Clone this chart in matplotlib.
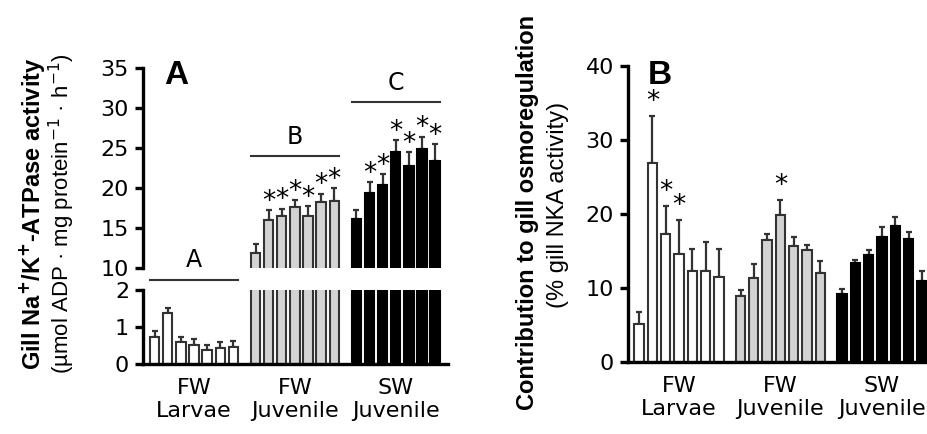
import numpy as np
import matplotlib.pyplot as plt

plt.rcParams['font.family'] = ['DejaVu Sans']
LABEL_FONT = ['Liberation Sans', 'DejaVu Sans']

group_labels = ['FW\nLarvae', 'FW\nJuvenile', 'SW\nJuvenile']
group_letters = ['A', 'B', 'C']
fill_colors = ['white', '#d3d3d3', 'black']

# --------------------------------
# Panel A: gill NKA activity (mean, SEM)
# --------------------------------
nka_larvae = [0.72, 1.37, 0.60, 0.51, 0.38, 0.42, 0.47]
nka_larvae_err = [0.18, 0.13, 0.12, 0.17, 0.13, 0.17, 0.16]
nka_fw_juv = [11.9, 16.0, 16.5, 17.6, 16.5, 18.2, 18.4]
nka_fw_juv_err = [1.1, 1.2, 0.9, 0.85, 1.2, 1.1, 1.6]
nka_sw_juv = [16.1, 19.4, 20.4, 24.5, 22.7, 24.9, 23.4]
nka_sw_juv_err = [1.15, 1.3, 1.3, 1.5, 1.8, 1.5, 2.1]
nka_stars = [[], [1, 2, 3, 4, 5, 6], [1, 2, 3, 4, 5, 6]]

# --------------------------------
# Panel B: contribution to gill osmoregulation (mean, SEM)
# --------------------------------
osmo_larvae = [5.05, 26.8, 17.3, 14.5, 12.2, 12.3, 11.5]
osmo_larvae_err = [1.65, 6.4, 3.8, 4.6, 3.0, 3.9, 3.7]
osmo_fw_juv = [8.9, 11.3, 16.5, 19.8, 15.7, 15.1, 12.0]
osmo_fw_juv_err = [0.8, 1.9, 0.8, 2.1, 1.1, 0.7, 1.6]
osmo_sw_juv = [9.15, 13.3, 14.4, 16.8, 18.4, 16.6, 10.95]
osmo_sw_juv_err = [0.65, 0.5, 0.7, 1.4, 1.2, 0.9, 1.35]
osmo_stars = [[1, 2, 3], [3], []]

nka_means = [nka_larvae, nka_fw_juv, nka_sw_juv]
nka_errs = [nka_larvae_err, nka_fw_juv_err, nka_sw_juv_err]
osmo_means = [osmo_larvae, osmo_fw_juv, osmo_sw_juv]
osmo_errs = [osmo_larvae_err, osmo_fw_juv_err, osmo_sw_juv_err]

EDGE = '#333333'
LW = 2.4
FS = 16


def positions(g, n, stride):
    return np.arange(n) + g * stride


def draw_bars(ax, means, errs, stride, width):
    for g in range(3):
        x = positions(g, len(means[g]), stride)
        ec = 'black' if g == 2 else EDGE
        ax.errorbar(x, means[g], yerr=[np.zeros(len(x)), errs[g]], fmt='none',
                    ecolor=EDGE, elinewidth=1.6, capsize=2.5, capthick=1.6, zorder=1)
        ax.bar(x, means[g], width, color=fill_colors[g], edgecolor=ec,
               linewidth=1.5, zorder=2)


def draw_stars(ax, means, errs, stars, stride, offset):
    for g in range(3):
        for i in stars[g]:
            x = positions(g, 7, stride)[i]
            ax.annotate('*', (x, means[g][i] + errs[g][i]), xytext=(0, offset),
                        textcoords='offset points', ha='center', va='center',
                        fontsize=19)


def style_axis(ax):
    for s in ['top', 'right']:
        ax.spines[s].set_visible(False)
    for s in ['left', 'bottom']:
        ax.spines[s].set_linewidth(LW)
    ax.tick_params(axis='y', direction='out', length=6, width=LW, labelsize=FS, pad=4)


fig = plt.figure(figsize=(9.28, 4.34), dpi=100)

# --------------------------------
# Panel A (broken y axis)
# --------------------------------
strideA, widthA = 7.7, 0.71
ax_top = fig.add_axes([0.1541, 0.3825, 0.3287, 0.4608])
ax_bot = fig.add_axes([0.1541, 0.1613, 0.3287, 0.1705])

for ax in (ax_top, ax_bot):
    draw_bars(ax, nka_means, nka_errs, strideA, widthA)
    style_axis(ax)
    ax.set_xlim(-0.89, 2 * strideA + 6 + 0.99)

ax_top.set_ylim(10, 35)
ax_top.set_yticks([10, 15, 20, 25, 30, 35])
ax_top.spines['bottom'].set_visible(False)
ax_top.set_xticks([])

ax_bot.set_ylim(0, 2)
ax_bot.set_yticks([0, 1, 2])
ax_bot.set_xticks([positions(g, 7, strideA).mean() for g in range(3)])
ax_bot.set_xticklabels(group_labels)
ax_bot.tick_params(axis='x', length=0, labelsize=FS, pad=10)

draw_stars(ax_top, nka_means, nka_errs, nka_stars, strideA, 6)

# group letters with lines
x0 = positions(0, 7, strideA)
ax_bot.plot([x0[0] - widthA / 2, x0[-1] + widthA / 2], [2.27, 2.27], color=EDGE,
            lw=1.5, clip_on=False)
ax_bot.text(x0.mean(), 2.82, group_letters[0], ha='center', va='center', fontsize=FS + 1)
for g, (yl, yt) in zip([1, 2], [(24.0, 26.4), (30.7, 33.1)]):
    xg = positions(g, 7, strideA)
    ax_top.plot([xg[0] - widthA / 2, xg[-1] + widthA / 2], [yl, yl], color=EDGE, lw=1.5)
    ax_top.text(xg.mean(), yt, group_letters[g], ha='center', va='center', fontsize=FS + 1)

fig.text(0.19, 0.827, 'A', fontsize=24, fontweight='bold', ha='center', va='center',
         family=LABEL_FONT)
fig.text(0.034, 0.507, r'Gill Na$^{\mathbf{+}}$/K$^{\mathbf{+}}$-ATPase activity',
         rotation=90, fontsize=17, fontweight='bold', ha='center', va='center',
         family=LABEL_FONT)
fig.text(0.067, 0.507, '(\u00b5mol ADP \u00b7 mg protein$^{-1}$ \u00b7 h$^{-1}$)',
         rotation=90, fontsize=16, ha='center', va='center', family=LABEL_FONT)

# --------------------------------
# Panel B
# --------------------------------
strideB, widthB = 7.62, 0.7
axB = fig.add_axes([0.6767, 0.1666, 0.3233, 0.682])
draw_bars(axB, osmo_means, osmo_errs, strideB, widthB)
style_axis(axB)
axB.set_xlim(-0.83, 21.7)
axB.set_ylim(0, 40)
axB.set_yticks([0, 10, 20, 30, 40])
axB.set_xticks([positions(g, 7, strideB).mean() for g in range(3)])
axB.set_xticklabels(group_labels)
axB.tick_params(axis='x', length=0, labelsize=FS, pad=10)
draw_stars(axB, osmo_means, osmo_errs, osmo_stars, strideB, 10)

fig.text(0.711, 0.827, 'B', fontsize=24, fontweight='bold', ha='center', va='center',
         family=LABEL_FONT)
fig.text(0.568, 0.51, 'Contribution to gill osmoregulation', rotation=90,
         fontsize=17, fontweight='bold', ha='center', va='center', family=LABEL_FONT)
fig.text(0.601, 0.528, '(% gill NKA activity)', rotation=90,
         fontsize=17, ha='center', va='center', family=LABEL_FONT)

fig.savefig('out.png', dpi=100)
